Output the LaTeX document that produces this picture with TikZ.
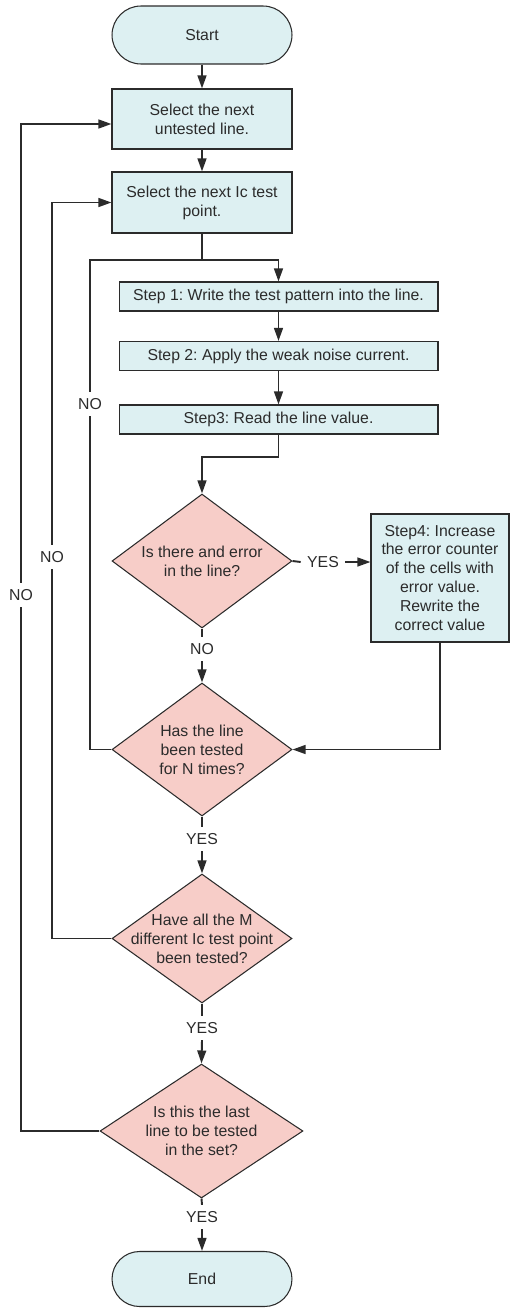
\documentclass[tikz,border=0pt]{standalone}
\usepackage{fontspec}
\setmainfont{Liberation Sans}
\usetikzlibrary{arrows.meta,shapes.geometric}
\frenchspacing

\definecolor{boxfill}{HTML}{DDF0F2}
\definecolor{decfill}{HTML}{F7CDC8}
\definecolor{ink}{HTML}{2B2B2B}

\begin{document}
\begin{tikzpicture}[x=0.02cm,y=-0.02cm,
  every node/.style={font=\fontsize{9}{10.8}\selectfont, text=ink},
  proc/.style={draw=ink, line width=0.6pt, fill=boxfill, rectangle, inner sep=0pt, align=center},
  term/.style={proc},
  dec/.style={draw=ink, line width=0.6pt, fill=decfill, diamond, inner sep=0pt},
  dtext/.style={align=center, inner sep=0pt},
  lbl/.style={inner sep=3.5pt},
  flow/.style={draw=ink, line width=1.1pt},
  arr/.style={flow, -{Triangle[length=7.4pt,width=5pt]}},
]
\path[use as bounding box] (0,0) rectangle (510,1308);

% terminals and process boxes
\node[term, rounded corners=0.58cm, minimum width=3.6cm, minimum height=1.16cm] (start) at (202,35) {Start};
\node[proc, minimum width=3.6cm, minimum height=1.2cm] (b1) at (202,119) {Select the next\\untested line.};
\node[proc, minimum width=3.6cm, minimum height=1.22cm] (b2) at (202,202.5) {Select the next Ic test\\point.};
\node[proc, minimum width=6.38cm, minimum height=0.58cm] (s1) at (278.5,296.5) {Step 1: Write the test pattern into the line.};
\node[proc, minimum width=6.38cm, minimum height=0.58cm] (s2) at (278.5,356) {Step 2: Apply the weak noise current.};
\node[proc, minimum width=6.38cm, minimum height=0.58cm] (s3) at (278.5,419.5) {Step3: Read the line value.};

% decisions
\node[dec, minimum width=3.6cm, minimum height=2.68cm] (d1) at (202,561) {};
\node[dtext] (d1t) at (d1) {Is there and error\\in the line?};
\node[proc, minimum width=2.76cm, minimum height=2.56cm] (s4) at (440,578) {Step4: Increase\\the error counter\\of the cells with\\error value.\\Rewrite the\\correct value};
\node[dec, minimum width=3.6cm, minimum height=2.66cm] (d2) at (202,749.5) {};
\node[dtext] (d2t) at (d2) {Has the line\\been tested\\for N times?};
\node[dec, minimum width=3.6cm, minimum height=2.58cm] (d3) at (202,938.5) {};
\node[dtext] (d3t) at (d3) {Have all the M\\different Ic test point\\been tested?};
\node[dec, minimum width=4.06cm, minimum height=2.68cm] (d4) at (201.5,1131) {};
\node[dtext] (d4t) at (d4) {Is this the last\\line to be tested\\in the set?};
\node[term, rounded corners=0.55cm, minimum width=3.6cm, minimum height=1.1cm] (end) at (202,1279) {End};

% branch labels
\node[lbl] (yes1) at (323,562) {YES};
\node[lbl] (no1) at (202,649) {NO};
\node[lbl] (yes2) at (202,839) {YES};
\node[lbl] (yes3) at (202,1028) {YES};
\node[lbl] (yes4) at (202,1217) {YES};
\node[lbl] (no2) at (90,404) {NO};
\node[lbl] (no3) at (52,557) {NO};
\node[lbl] (no4) at (21,595) {NO};

% junctions
\coordinate (j1) at (202,260);
\coordinate (j2) at (278.5,457);

% main flow
\draw[arr] (start.south) -- (b1.north);
\draw[arr] (b1.south) -- (b2.north);
\draw[arr] (b2.south) -- (j1) -| (s1.north);
\draw[arr] (s1.south) -- (s2.north);
\draw[arr] (s2.south) -- (s3.north);
\draw[arr] (s3.south) -- (j2) -| (d1.north);
\draw[flow] (d1.east) -- (yes1.west);
\draw[arr] (yes1.east) -- (yes1.east -| s4.west);
\draw[flow] (d1.south) -- (no1.north);
\draw[arr] (no1.south) -- (d2.north);
\draw[arr] (s4.south) |- (d2.east);
\draw[flow] (d2.south) -- (yes2.north);
\draw[arr] (yes2.south) -- (d3.north);
\draw[flow] (d3.south) -- (yes3.north);
\draw[arr] (yes3.south) -- (d4.north);
\draw[flow] (d4.south) -- (yes4.north);
\draw[arr] (yes4.south) -- (end.north);

% loops back
\draw[flow] (d2.west) -| (no2.south);
\draw[flow] (no2.north) |- (j1);
\draw[flow] (d3.west) -| (no3.south);
\draw[arr] (no3.north) |- (b2.west);
\draw[flow] (d4.west) -| (no4.south);
\draw[arr] (no4.north) |- ([yshift=-0.1cm]b1.west);
\end{tikzpicture}
\end{document}
